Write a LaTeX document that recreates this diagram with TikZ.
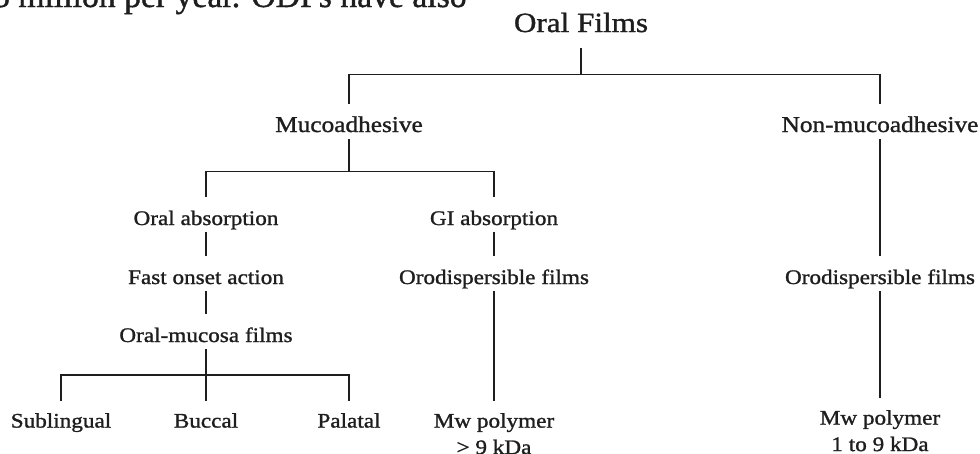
\documentclass[tikz,border=0pt]{standalone}
\usepackage{fontspec}
\setmainfont{Liberation Serif}[FakeStretch=1.12, FakeBold=1.2]
\newfontfamily\pagefont{Liberation Serif}[FakeBold=1.2]
\usepackage{tikz}
\usetikzlibrary{positioning, calc}
\definecolor{InkGray}{RGB}{30,30,30}

\tikzset{
  lbl/.style={anchor=base, inner sep=0pt, text height=28pt, text depth=7pt,
    font=\fontsize{20.7}{26}\selectfont, text=InkGray},
  midlbl/.style={lbl, font=\fontsize{22.6}{26}\selectfont},
  leaf/.style={anchor=north, inner xsep=0pt, inner ysep=12pt, align=center,
    font=\fontsize{20.7}{26.5}\selectfont, text=InkGray},
  conn/.style={draw=InkGray, line width=1.4pt},
}

\begin{document}
\begin{tikzpicture}[x=1pt, y=-1pt]
    \useasboundingbox (0,0) rectangle (980,453);
    \clip (0,0) rectangle (980,453);

    % running text cut by the top edge
    \node[anchor=base west, inner sep=0pt, font=\pagefont\fontsize{33.7}{34}\selectfont, text=InkGray] (pagetext) at (-24,7) {75 million per year. ODFs have also};

    % root and first split
    \node[anchor=base, inner sep=0pt, text depth=16pt, font=\fontsize{27.8}{30}\selectfont, text=InkGray] (root) at (581,32) {Oral Films};
    \node[midlbl] (muco) at (349,132) {Mucoadhesive};
    \node[midlbl] (nonmuco) at (880,132) {Non-mucoadhesive};

    % mucoadhesive branch
    \node[lbl] (oralabs) at (206,225) {Oral absorption};
    \node[lbl] (giabs) at (494,225) {GI absorption};
    \node[lbl] (fast) at (206,284) {Fast onset action};
    \node[lbl] (odfgi) at (494,284) {Orodispersible films};
    \node[lbl] (omf) at (206,342) {Oral-mucosa films};

    % non-mucoadhesive branch
    \node[lbl] (odfnon) at (880,284) {Orodispersible films};

    % leaves
    \node[leaf] (subl) at (61,401) {Sublingual};
    \node[leaf] (bucc) at (206,401) {Buccal};
    \node[leaf] (pala) at (349,401) {Palatal};
    \node[leaf] (mwgi) at (494,401) {Mw polymer\\> 9 kDa};
    \node[leaf] (mwnon) at (880,398) {Mw polymer\\1 to 9 kDa};

    % connectors
    \draw[conn] (root.south) -- ++(0,26) coordinate (rootbar);
    \draw[conn] (muco.north) |- (rootbar) -| (nonmuco.north);
    \draw[conn] (muco.south) -- ++(0,32) coordinate (mucobar);
    \draw[conn] (oralabs.north) |- (mucobar) -| (giabs.north);
    \draw[conn] (oralabs.south) -- (fast.north);
    \draw[conn] (fast.south) -- (omf.north);
    \draw[conn] (omf.south) -- (bucc.north);
    \coordinate (omfbar) at ($(omf.south)!0.5!(bucc.north)$);
    \draw[conn] (subl.north) |- (omfbar) -| (pala.north);
    \draw[conn] (giabs.south) -- (odfgi.north);
    \draw[conn] (odfgi.south) -- (mwgi.north);
    \draw[conn] (nonmuco.south) -- (odfnon.north);
    \draw[conn] (odfnon.south) -- (mwnon.north);
\end{tikzpicture}
\end{document}
